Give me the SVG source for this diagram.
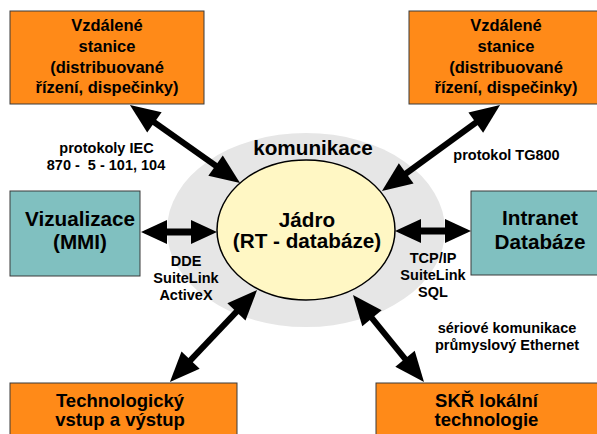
<svg xmlns="http://www.w3.org/2000/svg" width="597" height="434" viewBox="0 0 597 434">
<style>
text{font-family:"Liberation Sans",Arial,sans-serif;font-weight:bold;fill:#000;text-anchor:middle}
.orange{fill:#FF8A18;stroke:#3a3a3a;stroke-width:1}
.teal{fill:#80C0C0;stroke:#3a3a3a;stroke-width:1}
.t16{font-size:16.5px}
.t20{font-size:20.7px}
.t18{font-size:18.5px}
.t14{font-size:14.5px}
.pre{white-space:pre}
.shaft{stroke:#000;fill:none}
</style>
<defs>
<marker id="hd" markerUnits="userSpaceOnUse" markerWidth="32" markerHeight="27" refX="2" refY="12.5" orient="auto-start-reverse" overflow="visible">
<path d="M0,0 L30,12.5 L0,25 Z" fill="#000"/>
</marker>
<marker id="hh" markerUnits="userSpaceOnUse" markerWidth="28" markerHeight="26" refX="2" refY="12" orient="auto-start-reverse" overflow="visible">
<path d="M0,0 L26,12 L0,24 Z" fill="#000"/>
</marker>
</defs>
<rect width="597" height="434" fill="#fff"/>

<g id="komunikace">
<ellipse cx="306" cy="230" rx="139" ry="97" fill="#E6E6E6"/>
<text class="t20" x="313" y="155">komunikace</text>
</g>

<g id="jadro">
<ellipse cx="306" cy="230" rx="89" ry="70" fill="#FFF7C4" stroke="#000" stroke-width="1.5"/>
<text class="t20" x="307" y="227">Jádro</text>
<text class="t20" x="307" y="248">(RT - databáze)</text>
</g>

<g id="vzdalene-levo">
<rect class="orange" x="10" y="11" width="194" height="93"/>
<text class="t16" x="107" y="31">Vzdálené</text>
<text class="t16" x="107" y="52">stanice</text>
<text class="t16" x="107" y="72.5">(distribuované</text>
<text class="t16" x="107" y="93">řízení, dispečinky)</text>
</g>

<g id="vzdalene-pravo">
<rect class="orange" x="409" y="11" width="196" height="93"/>
<text class="t16" x="506" y="31">Vzdálené</text>
<text class="t16" x="506" y="52">stanice</text>
<text class="t16" x="506" y="72.5">(distribuované</text>
<text class="t16" x="506" y="93">řízení, dispečinky)</text>
</g>

<g id="vizualizace">
<rect class="teal" x="10" y="191" width="130" height="85"/>
<text class="t20" x="80" y="226">Vizualizace</text>
<text class="t20" x="80" y="249">(MMI)</text>
</g>

<g id="intranet">
<rect class="teal" x="471" y="191" width="140" height="84"/>
<text class="t20" x="540" y="225">Intranet</text>
<text class="t20" x="540" y="249">Databáze</text>
</g>

<g id="technologicky">
<rect class="orange" x="10" y="383" width="227" height="60"/>
<text class="t18" x="120" y="406.5">Technologický</text>
<text class="t18" x="120" y="425.5">vstup a výstup</text>
</g>

<g id="skr">
<rect class="orange" x="376" y="383" width="235" height="60"/>
<text class="t18" x="486.5" y="406.5">SKŘ lokální</text>
<text class="t18" x="486.5" y="425.5">technologie</text>
</g>

<g id="connectors">
<line class="shaft" x1="152.8" y1="121.2" x2="217.2" y2="166.8" stroke-width="6" marker-start="url(#hd)" marker-end="url(#hd)"/>
<line class="shaft" x1="477.4" y1="121.5" x2="404.6" y2="174.5" stroke-width="6" marker-start="url(#hd)" marker-end="url(#hd)"/>
<line class="shaft" x1="189.2" y1="361.6" x2="237.8" y2="310.4" stroke-width="6" marker-start="url(#hd)" marker-end="url(#hd)"/>
<line class="shaft" x1="406.3" y1="360.3" x2="370.7" y2="316.7" stroke-width="6" marker-start="url(#hd)" marker-end="url(#hd)"/>
<line class="shaft" x1="165" y1="232" x2="193" y2="232" stroke-width="7" marker-start="url(#hh)" marker-end="url(#hh)"/>
<line class="shaft" x1="419" y1="231" x2="447" y2="231" stroke-width="7" marker-start="url(#hh)" marker-end="url(#hh)"/>
</g>

<g id="labels">
<text class="t14" x="106.5" y="153">protokoly IEC</text>
<text class="t14 pre" x="106" y="170">870 -  5 - 101, 104</text>
<text class="t14" x="506.5" y="159.5">protokol TG800</text>
<text class="t14" x="186" y="266">DDE</text>
<text class="t14" x="186" y="283">SuiteLink</text>
<text class="t14" x="186" y="300">ActiveX</text>
<text class="t14" x="433" y="263">TCP/IP</text>
<text class="t14" x="433" y="280">SuiteLink</text>
<text class="t14" x="433" y="297">SQL</text>
<text class="t14" x="507" y="332.5">sériové komunikace</text>
<text class="t14" x="507" y="349.5">průmyslový Ethernet</text>
</g>
</svg>
